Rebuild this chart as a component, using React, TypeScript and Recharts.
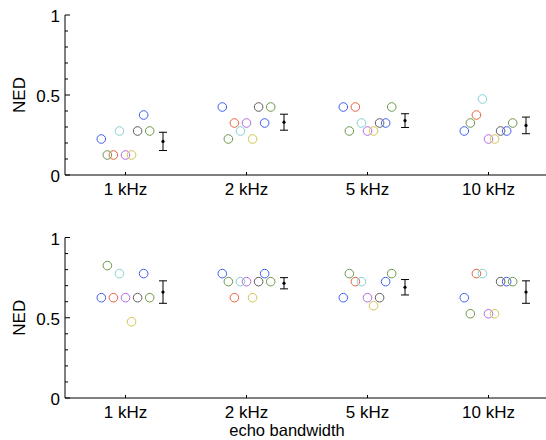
import React from "react";
import { ErrorBar, Scatter, ScatterChart, XAxis, YAxis } from "recharts";

const FONT = "'Liberation Sans', Arial, Helvetica, sans-serif";

const CATEGORIES = ["1 kHz", "2 kHz", "5 kHz", "10 kHz"];
const CATEGORY_POS = [1, 2, 3, 4];
const Y_TICKS = [0, 0.1, 0.2, 0.3, 0.4, 0.5, 0.6, 0.7, 0.8, 0.9, 1];
const Y_LABELS: Record<string, string> = { "0": "0", "0.5": "0.5", "1": "1" };

// one colour per subject, in the left-to-right order of the circles
const SUBJECT_COLORS = [
  "#3f5ff0",
  "#6d984a",
  "#e4643f",
  "#86d1d1",
  "#b46be0",
  "#d3c64e",
  "#5e5e5e",
  "#3f5ff0",
  "#6d984a",
];

// NED per subject, one value per bandwidth (1, 2, 5, 10 kHz)
const TOP_S1 = [0.225, 0.425, 0.425, 0.275];
const TOP_S2 = [0.125, 0.225, 0.275, 0.325];
const TOP_S3 = [0.125, 0.325, 0.425, 0.375];
const TOP_S4 = [0.275, 0.275, 0.325, 0.475];
const TOP_S5 = [0.125, 0.325, 0.275, 0.225];
const TOP_S6 = [0.125, 0.225, 0.275, 0.225];
const TOP_S7 = [0.275, 0.425, 0.325, 0.275];
const TOP_S8 = [0.375, 0.325, 0.325, 0.275];
const TOP_S9 = [0.275, 0.425, 0.425, 0.325];
const TOP_MEAN = [0.21, 0.33, 0.34, 0.31];
const TOP_ERR = [0.057, 0.05, 0.043, 0.052];

const BOT_S1 = [0.625, 0.775, 0.625, 0.625];
const BOT_S2 = [0.825, 0.725, 0.775, 0.525];
const BOT_S3 = [0.625, 0.625, 0.725, 0.775];
const BOT_S4 = [0.775, 0.725, 0.725, 0.775];
const BOT_S5 = [0.625, 0.725, 0.625, 0.525];
const BOT_S6 = [0.475, 0.625, 0.575, 0.525];
const BOT_S7 = [0.625, 0.725, 0.625, 0.725];
const BOT_S8 = [0.775, 0.775, 0.725, 0.725];
const BOT_S9 = [0.625, 0.725, 0.775, 0.725];
const BOT_MEAN = [0.66, 0.715, 0.69, 0.66];
const BOT_ERR = [0.07, 0.035, 0.048, 0.07];

const TOP_SUBJECTS = [TOP_S1, TOP_S2, TOP_S3, TOP_S4, TOP_S5, TOP_S6, TOP_S7, TOP_S8, TOP_S9];
const BOT_SUBJECTS = [BOT_S1, BOT_S2, BOT_S3, BOT_S4, BOT_S5, BOT_S6, BOT_S7, BOT_S8, BOT_S9];

const SUBJECT_STEP = 0.05; // horizontal spread of subjects within a bandwidth
const MEAN_SHIFT = 0.31; // mean +/- error drawn right of the subjects

function LeftTick(props: any) {
  const { x, y, payload } = props;
  const key = String(payload.value);
  const label = Y_LABELS[key];
  const ax = x + 5;
  return (
    <g>
      <line x1={ax} x2={ax + (label ? 5 : 3)} y1={y} y2={y} stroke="#000" />
      {label && (
        <text x={x} y={y + 1} dy="0.36em" textAnchor="end" fontSize={17} fontFamily={FONT} fill="#000">
          {label}
        </text>
      )}
    </g>
  );
}

function RightTick(props: any) {
  const { x, y, payload } = props;
  const major = Y_LABELS[String(payload.value)] != null;
  return <line x1={x - (major ? 5 : 3)} x2={x} y1={y} y2={y} stroke="#000" />;
}

function BottomTick(props: any) {
  const { x, y, payload } = props;
  return (
    <g>
      <line x1={x} x2={x} y1={y} y2={y - 3} stroke="#000" />
      <text x={x} y={y + 7.5} dy="0.71em" textAnchor="middle" fontSize={17} fontFamily={FONT} fill="#000">
        {CATEGORIES[payload.value - 1]}
      </text>
    </g>
  );
}

function TopTick(props: any) {
  const { x, y } = props;
  return <line x1={x} x2={x} y1={y} y2={y + 3} stroke="#000" />;
}

function NedLabel(props: any) {
  const vb = props.viewBox || { y: 0, height: 0 };
  const cx = 19;
  const cy = vb.y + vb.height / 2;
  return (
    <text
      x={cx}
      y={cy}
      transform={`rotate(-90, ${cx}, ${cy})`}
      textAnchor="middle"
      dominantBaseline="central"
      fontSize={17}
      fontFamily={FONT}
      fill="#000"
    >
      NED
    </text>
  );
}

function XLabel(props: any) {
  const vb = props.viewBox || { y: 0, height: 0 };
  return (
    <text x={287} y={vb.y + vb.height - 4} textAnchor="middle" fontSize={16.5} fontFamily={FONT} fill="#000">
      echo bandwidth
    </text>
  );
}

function Panel({
  subjects,
  means,
  errs,
  marginTop,
  xAxisHeight,
  xLabel,
}: {
  subjects: number[][];
  means: number[];
  errs: number[];
  marginTop: number;
  xAxisHeight: number;
  xLabel?: boolean;
}) {
  const meanData = CATEGORY_POS.map((c, i) => ({ x: c + MEAN_SHIFT, y: means[i], err: errs[i] }));
  return (
    <ScatterChart width={560} height={220} margin={{ top: marginTop, right: 11, bottom: 0, left: 0 }}>
      <XAxis
        dataKey="x"
        type="number"
        domain={[0.5, 4.5]}
        ticks={CATEGORY_POS}
        allowDataOverflow
        height={xAxisHeight}
        tickSize={0}
        tickMargin={0}
        tickLine={false}
        axisLine={{ stroke: "#000" }}
        tick={<BottomTick />}
        interval={0}
        label={xLabel ? <XLabel /> : undefined}
      />
      <XAxis
        xAxisId="top"
        orientation="top"
        type="number"
        domain={[0.5, 4.5]}
        ticks={CATEGORY_POS}
        allowDataOverflow
        height={0}
        tickSize={0}
        tickMargin={0}
        tickLine={false}
        axisLine={{ stroke: "#000" }}
        tick={<TopTick />}
        interval={0}
      />
      <YAxis
        dataKey="y"
        type="number"
        domain={[0, 1]}
        ticks={Y_TICKS}
        allowDataOverflow
        width={65}
        tickSize={0}
        tickMargin={5}
        tickLine={false}
        axisLine={{ stroke: "#000" }}
        tick={<LeftTick />}
        interval={0}
        label={<NedLabel />}
      />
      <YAxis
        yAxisId="right"
        orientation="right"
        type="number"
        domain={[0, 1]}
        ticks={Y_TICKS}
        allowDataOverflow
        width={0}
        tickSize={0}
        tickMargin={0}
        tickLine={false}
        axisLine={{ stroke: "#000" }}
        tick={<RightTick />}
        interval={0}
      />
      {subjects.map((vals, s) => {
        const color = SUBJECT_COLORS[s];
        const data = CATEGORY_POS.map((c, i) => ({ x: c + (s - 4) * SUBJECT_STEP, y: vals[i] }));
        return (
          <Scatter
            key={s}
            data={data}
            isAnimationActive={false}
            shape={(p: any) => (
              <circle cx={p.cx} cy={p.cy} r={4.3} fill="none" stroke={color} strokeWidth={1} />
            )}
          />
        );
      })}
      <Scatter
        data={meanData}
        isAnimationActive={false}
        shape={(p: any) => <circle cx={p.cx} cy={p.cy} r={1.6} fill="#000" />}
      >
        <ErrorBar dataKey="err" direction="y" width={4} stroke="#000" strokeWidth={1} isAnimationActive={false} />
      </Scatter>
    </ScatterChart>
  );
}

export default function App() {
  return (
    <div
      style={{
        position: "absolute",
        left: 0,
        top: 0,
        width: 546,
        height: 440,
        overflow: "hidden",
        background: "#fff",
      }}
    >
      <Panel subjects={TOP_SUBJECTS} means={TOP_MEAN} errs={TOP_ERR} marginTop={15} xAxisHeight={45} />
      <Panel
        subjects={BOT_SUBJECTS}
        means={BOT_MEAN}
        errs={BOT_ERR}
        marginTop={17.5}
        xAxisHeight={42}
        xLabel
      />
    </div>
  );
}
